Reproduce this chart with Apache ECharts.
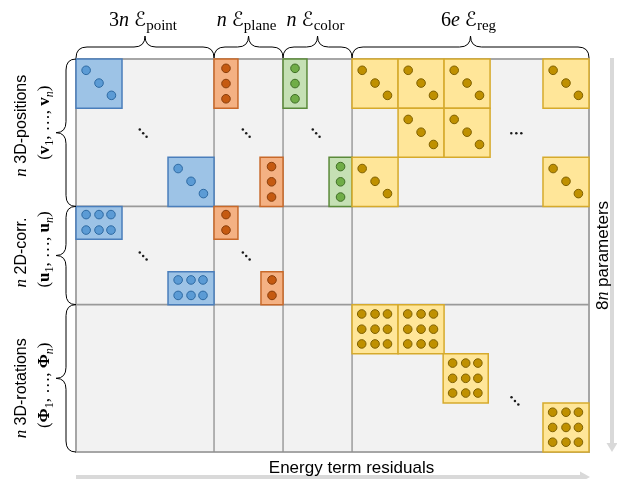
<!DOCTYPE html>
<html><head><meta charset="utf-8">
<script src="https://cdn.jsdelivr.net/npm/echarts/dist/echarts.min.js"></script>
<style>html,body{margin:0;padding:0;background:#fff}#c{width:617px;height:479px}</style>
</head><body><div id="c"></div>
<script>
// ---- data (block units: x = residual columns, y = parameter rows) ----
const colGroups = ['point', 'plane', 'color', 'reg'];
const colCounts = ['3n', 'n', 'n', '6e'];
const colBounds = [0, 3, 4.5, 6, 11.15];
const rowLine1 = ['3D-positions', '2D-corr.', '3D-rotations'];
const rowVars = ['v', 'u', 'Φ'];
const rowBounds = [0, 3, 5, 8];
// blocks: [x0, x1, y0, y1, pattern]
const pointBlocks = [[0,1,0,1,'diag'],[2,3,2,3,'diag'],[0,1,3,3.67,'grid23'],[2,3,4.33,5,'grid23']];
const planeBlocks = [[3,3.52,0,1,'col3'],[4,4.5,2,3,'col3'],[3,3.52,3,3.67,'col2'],[4.02,4.5,4.33,5,'col2']];
const colorBlocks = [[4.5,5.02,0,1,'col3'],[5.5,6,2,3,'col3']];
const regBlocks = [[6,7,0,1,'diag'],[7,8,0,1,'diag'],[8,9,0,1,'diag'],[10.15,11.15,0,1,'diag'],
                   [7,8,1,2,'diag'],[8,9,1,2,'diag'],[6,7,2,3,'diag'],[10.15,11.15,2,3,'diag'],
                   [6,7,5,6,'grid33'],[7,8,5,6,'grid33'],[7.98,8.96,6,7,'grid33'],[10.15,11.15,7,8,'grid33']];
const diagEllipses = [[1.46,1.51],[3.7,1.51],[5.22,1.51],[1.46,4.01],[3.7,4.01],[9.54,6.96]];
const horizEllipses = [[9.57,1.51]];
const xAxisName = 'Energy term residuals';
const yAxisName = 'parameters';
const yAxisCount = '8n';

// ---- styles ----
const SERIF = '"Liberation Serif","DejaVu Serif",serif';
const SANS = '"Liberation Sans",Arial,sans-serif';
const groupStyle = {
  point: {fill:'#9dc3e6', stroke:'#4a7ebb', dot:'#5b9bd5', dotStroke:'#2e6aa3'},
  plane: {fill:'#f4b183', stroke:'#c8692a', dot:'#c55a11', dotStroke:'#8a3e0b'},
  color: {fill:'#c5e0b4', stroke:'#5b8a3a', dot:'#70ad47', dotStroke:'#3f6e25'},
  reg:   {fill:'#ffe699', stroke:'#d6aa2c', dot:'#bf9000', dotStroke:'#7f6000'}
};
const patterns = {
  diag:   {xs:[0.22,0.5,0.77], ys:[0.23,0.49,0.74], diag:true},
  col3:   {xs:[0.5], ys:[0.19,0.5,0.81]},
  col2:   {xs:[0.5], ys:[0.25,0.72]},
  grid23: {xs:[0.22,0.5,0.76], ys:[0.25,0.72]},
  grid33: {xs:[0.21,0.5,0.77], ys:[0.19,0.5,0.8]}
};
const X_MAX = colBounds[colBounds.length-1], Y_MAX = rowBounds[rowBounds.length-1];
const rowLabelShift = [-7, -3, 10];

function blockRenderer(list, st) {
  return function (params, api) {
    const b = list[params.dataIndex];
    const p0 = api.coord([b[0], b[2]]), p1 = api.coord([b[1], b[3]]);
    const x = Math.min(p0[0], p1[0]), y = Math.min(p0[1], p1[1]);
    const w = Math.abs(p1[0]-p0[0]), h = Math.abs(p1[1]-p0[1]);
    const pat = patterns[b[4]];
    const children = [{type:'rect', shape:{x, y, width:w, height:h}, style:{fill:st.fill, stroke:st.stroke, lineWidth:1.5}}];
    const pts = [];
    if (pat.diag) pat.xs.forEach((fx, i) => pts.push([fx, pat.ys[i]]));
    else pat.ys.forEach(fy => pat.xs.forEach(fx => pts.push([fx, fy])));
    pts.forEach(([fx, fy]) => children.push({type:'circle', shape:{cx:x+fx*w, cy:y+fy*h, r:4.3},
      style:{fill:st.dot, stroke:st.dotStroke, lineWidth:1}}));
    return {type:'group', children};
  };
}
function blockSeries(name, list) {
  return {type:'custom', name, coordinateSystem:'cartesian2d', clip:false, z:3,
    encode:{x:[0,1], y:[2,3]}, data:list.map(b => b.slice(0,4)),
    renderItem: blockRenderer(list, groupStyle[name])};
}
function ellipsisSeries(list, offs) {
  return {type:'custom', coordinateSystem:'cartesian2d', clip:false, z:4,
    encode:{x:0, y:1}, data:list,
    renderItem(params, api) {
      const p = api.coord([api.value(0), api.value(1)]);
      return {type:'group', children: offs.map(o => ({type:'circle',
        shape:{cx:p[0]+o[0], cy:p[1]+o[1], r:1.25}, style:{fill:'#1a1a1a'}}))};
    }};
}
function countRich(c) {
  return c.split('').map(ch => /[0-9]/.test(ch) ? `{r|${ch}}` : `{i|${ch}}`).join('');
}

const chart = echarts.init(document.getElementById('c'));
chart.setOption({
  animation:false,
  grid:{left:76, top:59, width:513, height:393},
  xAxis:{type:'value', min:0, max:X_MAX, show:false},
  yAxis:{type:'value', min:0, max:Y_MAX, inverse:true, show:false},
  series:[
    // matrix background and separators
    {type:'custom', coordinateSystem:'cartesian2d', clip:false, z:1, data:[[0, X_MAX, 0, Y_MAX]],
     encode:{x:[0,1], y:[2,3]},
     renderItem(params, api) {
       const tl = api.coord([0,0]), br = api.coord([X_MAX, Y_MAX]);
       const ch = [{type:'rect', shape:{x:tl[0], y:tl[1], width:br[0]-tl[0], height:br[1]-tl[1]},
                    style:{fill:'#f2f2f2', stroke:'#a6a6a6', lineWidth:2}}];
       colBounds.slice(1,-1).forEach(c => { const p = api.coord([c,0]);
         ch.push({type:'line', shape:{x1:p[0], y1:tl[1], x2:p[0], y2:br[1]}, style:{stroke:'#8f8f8f', lineWidth:1.3}}); });
       rowBounds.slice(1,-1).forEach(r => { const p = api.coord([0,r]);
         ch.push({type:'line', shape:{x1:tl[0], y1:p[1], x2:br[0], y2:p[1]}, style:{stroke:'#9a9a9a', lineWidth:1.6}}); });
       return {type:'group', children:ch};
     }},
    blockSeries('point', pointBlocks),
    blockSeries('plane', planeBlocks),
    blockSeries('color', colorBlocks),
    blockSeries('reg', regBlocks),
    ellipsisSeries(diagEllipses, [[-3.4,-3.6],[0,0],[3.4,3.6]]),
    ellipsisSeries(horizEllipses, [[-5,0],[0,0],[5,0]]),
    // top braces + energy term labels
    {type:'custom', coordinateSystem:'cartesian2d', clip:false, z:5,
     data:colGroups.map((g,i) => [colBounds[i], colBounds[i+1]]),
     renderItem(params, api) {
       const i = params.dataIndex;
       const a = api.coord([api.value(0), 0]), b = api.coord([api.value(1), 0]);
       const x0 = a[0], x1 = b[0], xm = (x0+x1)/2, yb = a[1]-1, h = 11, c = 11;
       const d = `M${x0} ${yb} Q${x0} ${yb-h} ${x0+c} ${yb-h} L${xm-c} ${yb-h} Q${xm} ${yb-h} ${xm} ${yb-2*h} ` +
                 `Q${xm} ${yb-h} ${xm+c} ${yb-h} L${x1-c} ${yb-h} Q${x1} ${yb-h} ${x1} ${yb}`;
       return {type:'group', children:[
         {type:'path', shape:{pathData:d}, style:{fill:null, stroke:'#000', lineWidth:1}},
         {type:'text', x:xm-2, y:a[1]-38, style:{
           text: countRich(colCounts[i]) + '{r| }{e|ℰ}{s|' + colGroups[i] + '}',
           align:'center', verticalAlign:'middle', fill:'#000',
           rich:{
             r:{font:`20px ${SERIF}`, lineHeight:26, fill:'#000'},
             i:{font:`italic 20px ${SERIF}`, lineHeight:26, fill:'#000'},
             e:{font:`20px "DejaVu Sans","Noto Sans",sans-serif`, lineHeight:26, fill:'#000'},
             s:{font:`15px ${SERIF}`, lineHeight:19, verticalAlign:'bottom', fill:'#000'}
           }}}
       ]};
     }},
    // left braces + parameter labels
    {type:'custom', coordinateSystem:'cartesian2d', clip:false, z:5,
     data:rowLine1.map((g,i) => [rowBounds[i], rowBounds[i+1]]),
     renderItem(params, api) {
       const i = params.dataIndex;
       const a = api.coord([0, api.value(0)]), b = api.coord([0, api.value(1)]);
       const y0 = a[1], y1 = b[1], ym = (y0+y1)/2, xb = a[0], h = 10, c = 11;
       const d = `M${xb} ${y0} Q${xb-h} ${y0} ${xb-h} ${y0+c} L${xb-h} ${ym-c} Q${xb-h} ${ym} ${xb-2*h} ${ym} ` +
                 `Q${xb-h} ${ym} ${xb-h} ${ym+c} L${xb-h} ${y1-c} Q${xb-h} ${y1} ${xb} ${y1}`;
       const v = rowVars[i];
       const ly = ym + rowLabelShift[i];
       return {type:'group', children:[
         {type:'path', shape:{pathData:d}, style:{fill:null, stroke:'#000', lineWidth:1}},
         {type:'text', x:xb-54, y:ly, rotation:Math.PI/2, style:{
           text:`{i|n}{t| ${rowLine1[i]}}`, align:'center', verticalAlign:'middle',
           rich:{ i:{font:`italic 17px ${SERIF}`, lineHeight:20, fill:'#000'},
                  t:{font:`16px ${SANS}`, lineHeight:20, fill:'#000'} }}},
         {type:'text', x:xb-31, y:ly-3, rotation:Math.PI/2, style:{
           text:`{p|(}{b|${v}}{s|1}{p|, …, }{b|${v}}{si|n}{p|)}`, align:'center', verticalAlign:'middle',
           rich:{ p:{font:`17px ${SERIF}`, lineHeight:22, fill:'#000'},
                  b:{font:`bold 17px ${SERIF}`, lineHeight:22, fill:'#000'},
                  s:{font:`12px ${SERIF}`, lineHeight:12, verticalAlign:'bottom', fill:'#000'},
                  si:{font:`italic 12px ${SERIF}`, lineHeight:12, verticalAlign:'bottom', fill:'#000'} }}}
       ]};
     }},
    // axis arrows and names
    {type:'custom', coordinateSystem:'cartesian2d', clip:false, z:2, data:[[0,0]],
     renderItem(params, api) {
       const tl = api.coord([0,0]), br = api.coord([X_MAX, Y_MAX]);
       const ax = br[0]+23, ay = br[1]+25, col = '#d9d9d9';
       return {type:'group', children:[
         {type:'line', shape:{x1:ax, y1:tl[1]-1, x2:ax, y2:br[1]-8}, style:{stroke:col, lineWidth:4}},
         {type:'polygon', shape:{points:[[ax-5.5,br[1]-9],[ax+5.5,br[1]-9],[ax,br[1]]]}, style:{fill:col}},
         {type:'line', shape:{x1:tl[0], y1:ay, x2:br[0]-8, y2:ay}, style:{stroke:col, lineWidth:4}},
         {type:'polygon', shape:{points:[[br[0]-9,ay-5.5],[br[0]-9,ay+5.5],[br[0]+1,ay]]}, style:{fill:col}},
         {type:'text', x:(tl[0]+br[0])/2+19, y:ay-9, z2:10, style:{text:xAxisName, font:`17px ${SANS}`,
           fill:'#000', align:'center', verticalAlign:'middle'}},
         {type:'text', x:ax-9, y:(tl[1]+br[1])/2, rotation:Math.PI/2, style:{
           text:countRich(yAxisCount).replace('{r|','{t|') + `{t| ${yAxisName}}`, align:'center', verticalAlign:'middle',
           rich:{ t:{font:`17px ${SANS}`, lineHeight:20, fill:'#000'},
                  i:{font:`italic 18px ${SERIF}`, lineHeight:20, fill:'#000'} }}}
       ]};
     }}
  ]
});
</script></body></html>
